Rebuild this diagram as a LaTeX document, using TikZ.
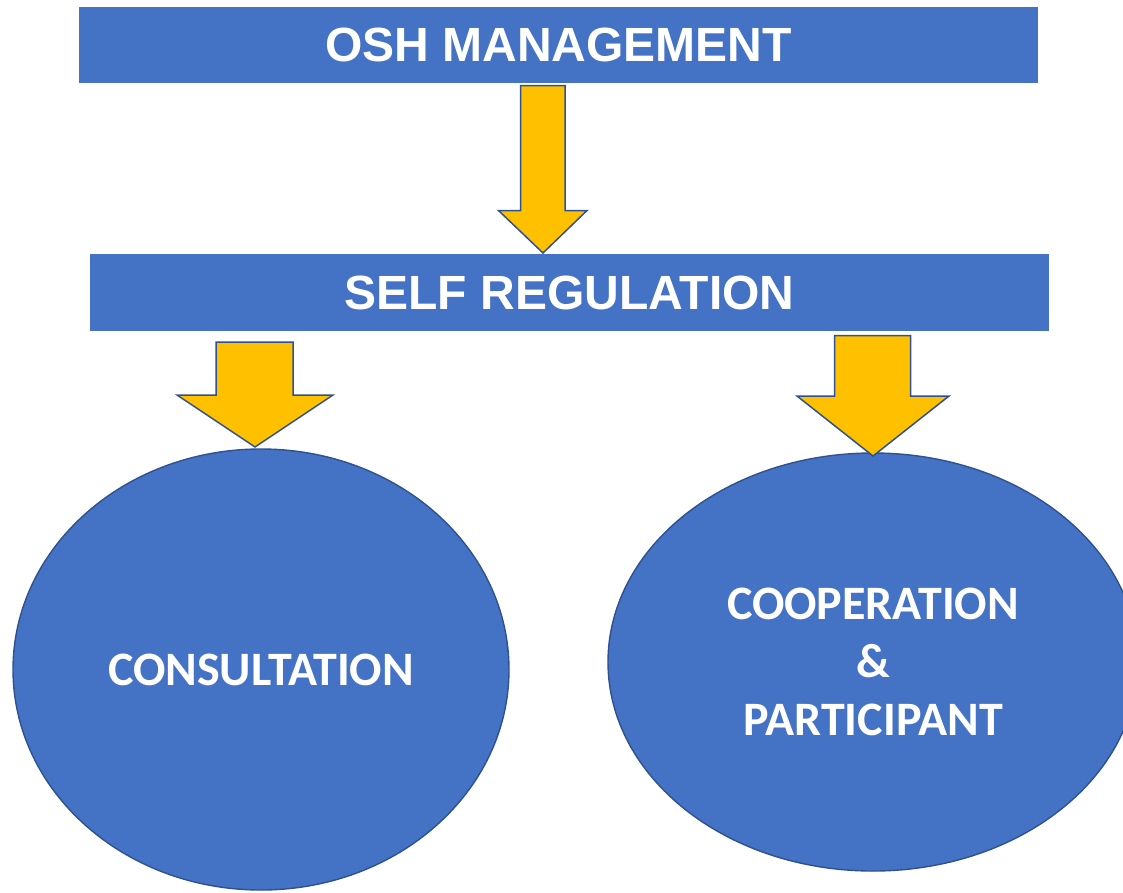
\documentclass[tikz,border=0pt]{standalone}
\usepackage{fontspec}
\newfontfamily\arialb{Liberation Sans}
\newfontfamily\calib{Carlito}
\usetikzlibrary{shapes.geometric}
\definecolor{boxblue}{HTML}{4472C4}
\definecolor{edgeblue}{HTML}{2F528F}
\definecolor{gold}{HTML}{FFC000}
\tikzset{
  banner/.style={fill=boxblue, draw=none, minimum width=959pt, inner sep=0pt,
    text=white, font=\arialb\bfseries\fontsize{48}{58}\selectfont},
  oval/.style={ellipse, fill=boxblue, draw=edgeblue, line width=1.4pt, inner sep=0pt,
    text=white, align=center, font=\calib\bfseries\fontsize{48}{58}\selectfont},
  blockarrow/.style={fill=gold, draw=edgeblue, line width=1.5pt, line join=miter}
}
\begin{document}
\begin{tikzpicture}[x=1pt,y=-1pt]
\useasboundingbox (0,0) rectangle (1123,892);
\fill[white] (0,0) rectangle (1123,892);
\node[banner, minimum height=76pt] (osh) at (558.5,45) {OSH MANAGEMENT};
\node[banner, minimum height=77pt] (self) at (569.5,292.5) {SELF REGULATION};
\node[oval, minimum width=496pt, minimum height=441pt] (cons) at (261,669.5) {CONSULTATION};
\node[oval, minimum width=530pt, minimum height=418pt] (coop) at (873,662) {COOPERATION\\\&\\PARTICIPANT};
% block arrows
\draw[blockarrow] (520.5,85.5) -- (565,85.5) -- (565,210.5) -- (587,210.5) -- (543,253) -- (498.5,210.5) -- (520.5,210.5) -- cycle;
\draw[blockarrow] (216,342) -- (293,342) -- (293,395) -- (333,395) -- (255,447) -- (177,395) -- (216,395) -- cycle;
\draw[blockarrow] (834.5,335.5) -- (910.5,335.5) -- (910.5,396) -- (949,396) -- (873,456) -- (797,396) -- (834.5,396) -- cycle;
\end{tikzpicture}
\end{document}
